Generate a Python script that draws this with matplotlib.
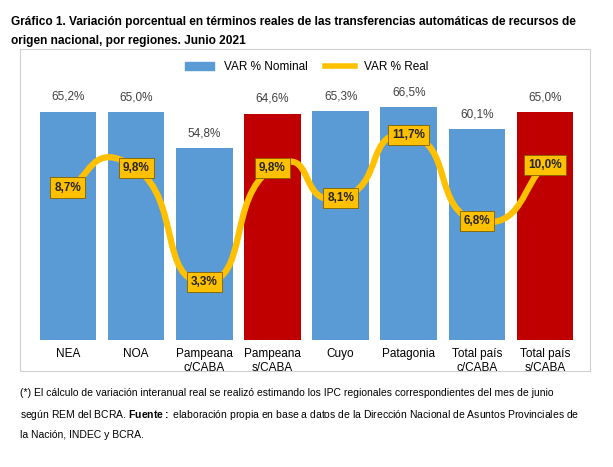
import matplotlib.pyplot as plt
from matplotlib.path import Path
from matplotlib.patches import PathPatch, Rectangle
import numpy as np

regiones = ["NEA", "NOA", "Pampeana\nc/CABA", "Pampeana\ns/CABA", "Cuyo", "Patagonia", "Total país\nc/CABA", "Total país\ns/CABA"]
var_nominal = [65.2, 65.0, 54.8, 64.6, 65.3, 66.5, 60.1, 65.0]
var_real = [8.7, 9.8, 3.3, 9.8, 8.1, 11.7, 6.8, 10.0]
rojas = [3, 7]

azul = "#5B9BD5"
rojo = "#C00000"
amarillo = "#FFC000"

plt.rcParams['font.family'] = ['Liberation Sans', 'DejaVu Sans']
plt.rcParams['mathtext.fontset'] = 'custom'
plt.rcParams['mathtext.bf'] = 'Liberation Sans:bold'
plt.rcParams['mathtext.rm'] = 'Liberation Sans'
fig = plt.figure(figsize=(6.13, 4.67), dpi=100)

fig.text(0.018, 0.965, "Gráfico 1. Variación porcentual en términos reales de las transferencias automáticas de recursos de",
         fontsize=8.6, fontweight="bold", va="top")
fig.text(0.018, 0.925, "origen nacional, por regiones. Junio 2021", fontsize=8.6, fontweight="bold", va="top")

# marco
fig.patches.append(Rectangle((0.033, 0.205), 0.93, 0.69, transform=fig.transFigure,
                             fill=False, edgecolor="#D0D0D0", lw=0.8))

ax = fig.add_axes([0.055, 0.272, 0.89, 0.585])
x = np.arange(len(regiones))
colores = [rojo if i in rojas else azul for i in x]
ax.bar(x, var_nominal, width=0.83, color=colores, zorder=1)
for xi, v in zip(x, var_nominal):
    ax.text(xi, v + 2.5, f"{v:.1f}%".replace(".", ","), ha="center", va="bottom", fontsize=8.5, color="#404040")
ax.set_ylim(0, 78)
ax.set_xlim(-0.5, len(regiones) - 0.5)
ax.set_yticks([])
ax.set_xticks(x)
ax.set_xticklabels(regiones, fontsize=8.5)
ax.tick_params(axis="x", length=0, pad=6)
for s in ax.spines.values():
    s.set_visible(False)

ax2 = ax.twinx()
ax2.set_ylim(0, 15.6)
ax2.set_yticks([])
for s in ax2.spines.values():
    s.set_visible(False)

# curva suavizada (Catmull-Rom -> Bezier, tension tipo Excel)
pts = np.column_stack([x, var_real]).astype(float)
verts = [tuple(pts[0])]
codes = [Path.MOVETO]
k = 3.0
for i in range(len(pts) - 1):
    p0 = pts[max(i - 1, 0)]
    p1 = pts[i]
    p2 = pts[i + 1]
    p3 = pts[min(i + 2, len(pts) - 1)]
    c1 = p1 + (p2 - p0) / k
    c2 = p2 - (p3 - p1) / k
    verts += [tuple(c1), tuple(c2), tuple(p2)]
    codes += [Path.CURVE4] * 3
ax2.add_patch(PathPatch(Path(verts, codes), fill=False, edgecolor=amarillo, lw=4.5, capstyle="round", zorder=2))
for xi, v in zip(x, var_real):
    ax2.text(xi, v, f"{v:.1f}%".replace(".", ","), ha="center", va="center", fontsize=8.5, fontweight="bold",
             color="#262626", zorder=3,
             bbox=dict(boxstyle="square,pad=0.35", fc=amarillo, ec="#7F6000", lw=0.6))

# leyenda
h1 = Rectangle((0, 0), 1, 1, color=azul)
h2 = plt.Line2D([0], [0], color=amarillo, lw=4)
ax.legend([h1, h2], ["VAR % Nominal", "VAR % Real"], loc="upper center", bbox_to_anchor=(0.5, 1.06),
          ncol=2, frameon=False, fontsize=8.5, handlelength=2.5, columnspacing=1.5)

nota = ("(*) El cálculo de variación interanual real se realizó estimando los IPC regionales correspondientes del mes de junio\n"
        "según REM del BCRA. $\\mathbf{Fuente:}$ elaboración propia en base a datos de la Dirección Nacional de Asuntos Provinciales de\n"
        "la Nación, INDEC y BCRA.")
fig.text(0.033, 0.17, nota, fontsize=7.5, va="top", linespacing=2.0)

fig.savefig("out.png", dpi=100)
